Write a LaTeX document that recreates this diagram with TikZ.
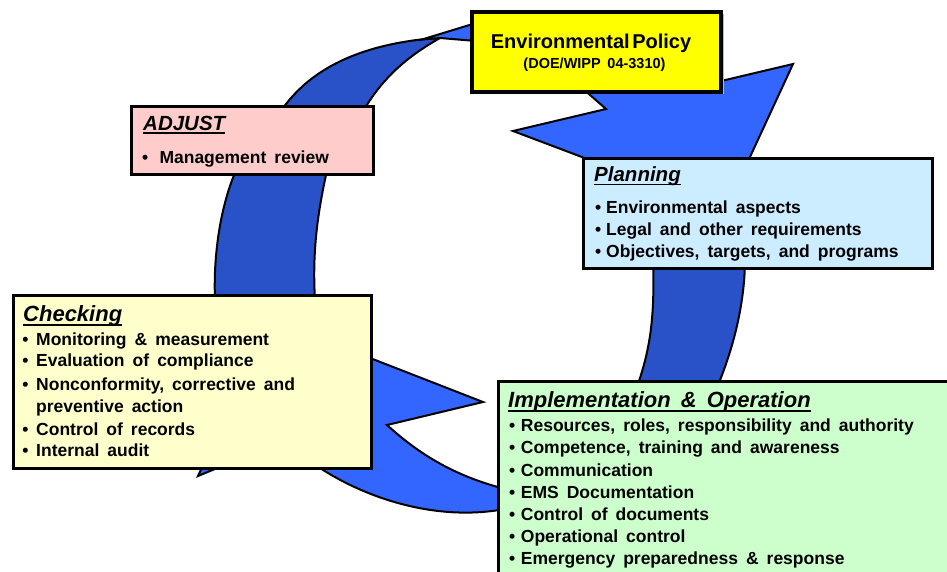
\documentclass[tikz,border=0pt]{standalone}
\usepackage{fontspec}
\setmainfont{Liberation Sans}[WordSpace={1.65}]
\definecolor{blueLight}{HTML}{3366FF}
\definecolor{blueDark}{HTML}{2952C8}
\definecolor{policyFill}{HTML}{FFFF00}
\definecolor{adjustFill}{HTML}{FFCCCC}
\definecolor{planFill}{HTML}{CCECFF}
\definecolor{checkFill}{HTML}{FFFFCC}
\definecolor{implFill}{HTML}{CCFFCC}
% bullet hung to the left of the line start
\newcommand\bulgap[1]{\llap{\textbullet\hspace{#1}}}
\begin{document}
\begin{tikzpicture}[x=1pt,y=-1pt,
  lightarrow/.style={fill=blueLight,draw=black,line width=2pt,line join=miter},
  darkarrow/.style={fill=blueDark,draw=black,line width=2pt,line join=miter},
  panel/.style={draw=black,line width=2.5pt,anchor=north west,inner sep=0pt},
  itemtxt/.style={anchor=base west,inner sep=0pt,font=\bfseries\fontsize{17.5}{21}\selectfont},
  titletxt/.style={anchor=base west,inner sep=0pt},
  uline/.style={line width=1.6pt}]
\useasboundingbox (0,0) rectangle (947,571);
\clip (0,0) rectangle (947,571);

% ---- cycle arrows ----
% Adjust -> Policy
\path[darkarrow] (283,108) .. controls (312,68) and (360,46) .. (425,39)
  -- (440,38) .. controls (410,55) and (385,75) .. (365,108) -- cycle;
\path[lightarrow] (422,39.5) -- (476,23) -- (476,41) -- (440,38) -- cycle;
% Policy -> Planning
\path[lightarrow] (573,80) -- (606,109) -- (513,131) -- (725,211)
  -- (793,64) -- (700,86) -- cycle;
% Planning -> Implementation
\path[darkarrow] (653,258) .. controls (655,320) and (650,350) .. (636,390)
  -- (716,390) .. controls (735,345) and (745,300) .. (745,258) -- cycle;
% Implementation -> Checking
\path[lightarrow] (505,489) .. controls (455,476) and (420,455) .. (387,425)
  -- (483,402) -- (270,319) -- (198,476) -- (285,440)
  .. controls (330,485) and (420,525) .. (505,509) -- cycle;
% Checking -> Adjust
\path[darkarrow] (215,300) .. controls (213,250) and (222,200) .. (238,166)
  -- (328,166) .. controls (318,210) and (312,250) .. (315,300) -- cycle;

% ---- Environmental Policy ----
\fill[gray!55] (474,14) rectangle (724,94);
\node[panel,line width=3.5pt,fill=policyFill,minimum width=249pt,minimum height=80pt]
  (policy) at (470,10) {};
\node[anchor=base,inner sep=0pt,font=\bfseries\fontsize{20}{24}\selectfont]
  (policyT) at (591,48.3) {Environmental\hspace{2.5pt}Policy};
\node[anchor=base,inner sep=0pt,font=\bfseries\fontsize{14.5}{17}\selectfont]
  (policyS) at (594.5,68) {(DOE/WIPP 04-3310)};

% ---- ADJUST ----
\node[panel,fill=adjustFill,minimum width=242pt,minimum height=68pt] (adjust) at (130,105) {};
\node[titletxt,font=\bfseries\itshape\fontsize{20.5}{24}\selectfont] (adjT) at (143,130) {ADJUST};
\draw[uline] ([yshift=-2.7pt]adjT.base west) -- ([yshift=-2.7pt]adjT.base east);
\node[itemtxt] (adj1) at (159.3,163.3) {\bulgap{11.2pt}Management review};

% ---- Planning ----
\node[panel,fill=planFill,minimum width=349pt,minimum height=110pt] (plan) at (582,157) {};
\node[titletxt,font=\bfseries\itshape\fontsize{20.5}{24}\selectfont] (planT) at (594,181.7) {Planning};
\draw[uline] ([yshift=-2.8pt]planT.base west) -- ([yshift=-2.8pt]planT.base east);
\node[itemtxt] (plan1) at (606,213.5) {\bulgap{4.9pt}Environmental aspects};
\node[itemtxt] (plan2) at (606,235.5) {\bulgap{4.9pt}Legal and other requirements};
\node[itemtxt] (plan3) at (606,257.5) {\bulgap{4.9pt}Objectives, targets, and programs};

% ---- Checking ----
\node[panel,fill=checkFill,minimum width=358pt,minimum height=173pt] (check) at (12,294) {};
\node[titletxt,font=\bfseries\itshape\fontsize{22}{26}\selectfont] (checkT) at (23,321.7) {Checking};
\draw[uline] ([yshift=-3.3pt]checkT.base west) -- ([yshift=-3.3pt]checkT.base east);
\node[itemtxt] (check1) at (36,345) {\bulgap{7.6pt}Monitoring \& measurement};
\node[itemtxt] (check2) at (36,366.7) {\bulgap{7.6pt}Evaluation of compliance};
\node[itemtxt] (check3) at (36,390) {\bulgap{7.6pt}Nonconformity, corrective and};
\node[itemtxt] (check4) at (36,412.7) {preventive action};
\node[itemtxt] (check5) at (36,435) {\bulgap{7.6pt}Control of records};
\node[itemtxt] (check6) at (36,456.7) {\bulgap{7.6pt}Internal audit};

% ---- Implementation & Operation ----
\node[panel,fill=implFill,minimum width=470pt,minimum height=220pt] (impl) at (497,380) {};
\node[titletxt,font=\bfseries\itshape\fontsize{22}{26}\selectfont] (implT) at (508,407.3) {Implementation \& Operation};
\draw[uline] ([yshift=-3.4pt]implT.base west) -- ([yshift=-3.4pt]implT.base east);
\foreach \txt [count=\i] in {{Resources, roles, responsibility and authority},
    {Competence, training and awareness},
    {Communication},
    {EMS Documentation},
    {Control of documents},
    {Operational control},
    {Emergency preparedness \& response}}
  \node[itemtxt] (impl\i) at (520.7,{431.7+22.2*(\i-1)}) {\bulgap{5.6pt}\txt};
\end{tikzpicture}
\end{document}
